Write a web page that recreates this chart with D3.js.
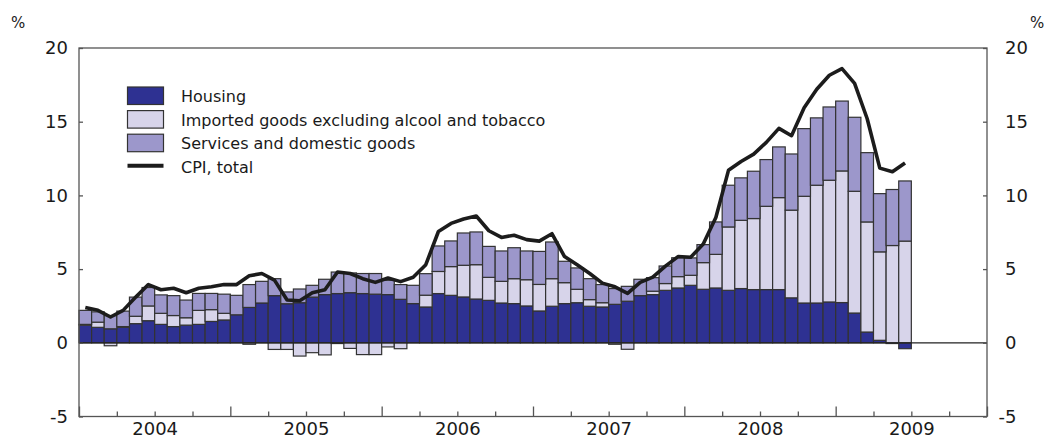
<!DOCTYPE html>
<html>
<head>
<meta charset="utf-8">
<script src="https://cdn.jsdelivr.net/npm/d3@7"></script>
<style>
body { margin: 0; background: #ffffff; }
text { font-family: "DejaVu Sans", sans-serif; fill: #1a1a1a; }
</style>
</head>
<body>
<script>
var w = 1054;
var h = 441;

// monthly, Jan 2004 - Jun 2009, contributions to 12-month CPI change (%)
var years = [2004, 2005, 2006, 2007, 2008, 2009];
var yTicks = [-5, 0, 5, 10, 15, 20];
var keys = ["housing", "imported", "services"];
var names = ["Housing", "Imported goods excluding alcool and tobacco", "Services and domestic goods", "CPI, total"];
var colors = ["#2e3192", "#d7d4ea", "#9c97cb"];

var housing = [
    1.2, 1.05, 0.95, 1.05, 1.3, 1.5, 1.25, 1.1, 1.2, 1.25, 1.45, 1.55,
    1.9, 2.4, 2.7, 3.2, 2.65, 2.72, 3.1, 3.27, 3.34, 3.4, 3.34, 3.3,
    3.27, 2.95, 2.66, 2.43, 3.34, 3.22, 3.11, 2.97, 2.88, 2.7, 2.66, 2.5,
    2.16, 2.48, 2.66, 2.72, 2.48, 2.43, 2.61, 2.82, 3.2, 3.27, 3.56, 3.72,
    3.9, 3.63, 3.72, 3.56, 3.68, 3.61, 3.61, 3.61, 3.05, 2.7, 2.7, 2.77,
    2.73, 2.02, 0.73, 0.17, -0.05, -0.4];
var imported = [
    0.05, 0.35, -0.2, 0.05, 0.5, 1.0, 0.75, 0.75, 0.5, 0.95, 0.8, 0.45,
    0, -0.1, 0, -0.45, -0.45, -0.9, -0.67, -0.82, -0.05, -0.38, -0.8, -0.8,
    -0.28, -0.4, 0, 0.8, 1.5, 1.95, 2.15, 2.33, 1.56, 1.47, 1.69, 1.78,
    1.8, 1.87, 1.42, 0.91, 0.45, 0.29, -0.1, -0.44, 0, 0.23, 0.46, 0.77,
    0.68, 1.81, 2.28, 4.3, 4.63, 4.82, 5.65, 6.24, 5.95, 7.24, 7.99, 8.26,
    8.93, 8.26, 7.47, 6.0, 6.6, 6.9];
var services = [
    0.95, 0.7, 0.9, 1.05, 1.3, 1.25, 1.25, 1.35, 1.2, 1.15, 1.1, 1.3,
    1.32, 1.55, 1.47, 1.15, 0.8, 0.93, 0.8, 1.04, 1.46, 1.34, 1.36, 1.4,
    0.97, 1.0, 1.24, 1.46, 1.73, 1.74, 2.19, 2.22, 2.1, 2.06, 2.1, 1.95,
    2.24, 2.49, 1.45, 1.45, 1.42, 1.23, 1.07, 1.01, 1.11, 0.92, 1.19, 1.28,
    1.18, 1.22, 2.2, 2.83, 2.88, 3.21, 3.17, 3.44, 3.81, 4.59, 4.57, 4.97,
    4.74, 5.02, 4.7, 3.95, 3.8, 4.08];
var cpi = [
    2.4, 2.2, 1.75, 2.2, 3.1, 3.95, 3.6, 3.7, 3.4, 3.7, 3.8, 3.95,
    3.95, 4.55, 4.7, 4.25, 2.9, 2.85, 3.4, 3.6, 4.8, 4.7, 4.35, 4.1,
    4.4, 4.15, 4.45, 5.3, 7.55, 8.1, 8.4, 8.6, 7.6, 7.15, 7.3, 7.0,
    6.9, 7.4, 5.85, 5.3, 4.7, 4.05, 3.8, 3.35, 4.1, 4.45, 5.2, 5.85,
    5.8, 6.7, 8.5, 11.7, 12.3, 12.8, 13.6, 14.55, 14.05, 15.95, 17.2, 18.15,
    18.6, 17.6, 15.2, 11.85, 11.6, 12.2];

var rows = housing.map(function(d, i) {
    return {m: i, housing: d, imported: imported[i], services: services[i]};
});

var svg = d3.select("body")
    .append("svg")
    .attr("width", w)
    .attr("height", h);

var x = d3.scaleLinear().domain([0, years.length * 12]).range([79, 987]);
var y = d3.scaleLinear().domain([-5, 20]).range([416.5, 48]);

// stacked bars, negatives go below zero
var layers = d3.stack().keys(keys).offset(d3.stackOffsetDiverging)(rows);

svg.append("g")
    .selectAll("g")
    .data(layers)
    .join("g")
    .attr("fill", function(d, i) { return colors[i]; })
    .selectAll("rect")
    .data(function(d) { return d; })
    .join("rect")
    .attr("x", function(d) { return x(d.data.m); })
    .attr("width", function(d) { return x(d.data.m + 1) - x(d.data.m); })
    .attr("y", function(d) { return y(d[1]); })
    .attr("height", function(d) { return y(d[0]) - y(d[1]); })
    .attr("stroke", "#333333")
    .attr("stroke-width", 1.2);

// zero line
svg.append("line")
    .attr("x1", x(0))
    .attr("x2", x(years.length * 12))
    .attr("y1", y(0))
    .attr("y2", y(0))
    .attr("stroke", "#222222")
    .attr("stroke-width", 1.2);

// CPI line
var line = d3.line()
    .x(function(d, i) { return x(i + 0.5); })
    .y(function(d) { return y(d); });

svg.append("path")
    .datum(cpi)
    .attr("d", line)
    .attr("fill", "none")
    .attr("stroke", "#1c1c1c")
    .attr("stroke-width", 3.6)
    .attr("stroke-linejoin", "round");

// frame
svg.append("rect")
    .attr("x", x(0))
    .attr("y", y(20))
    .attr("width", x(years.length * 12) - x(0))
    .attr("height", y(-5) - y(20))
    .attr("fill", "none")
    .attr("stroke", "#555555")
    .attr("stroke-width", 1.3);

// axes (plain hyphen for the minus sign, as in the original)
var plain = function(d) { return String(d); };
var axisL = svg.append("g")
    .attr("transform", "translate(" + x(0) + ",0)")
    .call(d3.axisLeft(y).tickValues(yTicks).tickSize(-4).tickPadding(11).tickFormat(plain));
var axisR = svg.append("g")
    .attr("transform", "translate(" + x(years.length * 12) + ",0)")
    .call(d3.axisRight(y).tickValues(yTicks).tickSize(-4).tickPadding(18).tickFormat(plain));

var quarters = d3.range(0, years.length * 12 + 1, 3);
var axisQ = svg.append("g")
    .attr("transform", "translate(0," + y(-5) + ")")
    .call(d3.axisBottom(x).tickValues(quarters.filter(function(d) { return d % 12 != 0; }))
        .tickSize(-5).tickFormat(""));
var axisY = svg.append("g")
    .attr("transform", "translate(0," + y(-5) + ")")
    .call(d3.axisBottom(x).tickValues(quarters.filter(function(d) { return d % 12 == 0; }))
        .tickSize(-10).tickFormat(""));
var axisLab = svg.append("g")
    .attr("transform", "translate(0," + y(-5) + ")")
    .call(d3.axisBottom(x).tickValues(years.map(function(d, i) { return i * 12 + 6; }))
        .tickSize(0).tickPadding(6)
        .tickFormat(function(d) { return years[(d - 6) / 12]; }));

[axisL, axisR, axisQ, axisY, axisLab].forEach(function(a) {
    a.select(".domain").remove();
    a.selectAll(".tick line").attr("stroke", "#555555").attr("stroke-width", 1.3);
    a.selectAll(".tick text")
        .attr("fill", "#1a1a1a")
        .attr("font-family", "DejaVu Sans, sans-serif")
        .attr("font-size", 18);
});
axisR.selectAll(".tick text")
    .attr("dx", function(d) { return d < 0 ? -6.5 : 0; });

svg.append("text").text("%").attr("x", 11).attr("y", 28).attr("font-size", 15);
svg.append("text").text("%").attr("x", 1030).attr("y", 28).attr("font-size", 15);

// legend
var legend = svg.append("g").attr("transform", "translate(127.5,87)");
colors.forEach(function(c, i) {
    legend.append("rect")
        .attr("x", 0)
        .attr("y", i * 23.6)
        .attr("width", 36)
        .attr("height", 17.5)
        .attr("fill", c)
        .attr("stroke", "#333333")
        .attr("stroke-width", 1.2);
});
legend.append("line")
    .attr("x1", 0)
    .attr("x2", 36)
    .attr("y1", 78.7)
    .attr("y2", 78.7)
    .attr("stroke", "#1c1c1c")
    .attr("stroke-width", 4);
names.forEach(function(n, i) {
    legend.append("text")
        .text(n)
        .attr("x", 53.5)
        .attr("y", 15 + i * 23.6)
        .attr("font-size", 16);
});
</script>
</body>
</html>
